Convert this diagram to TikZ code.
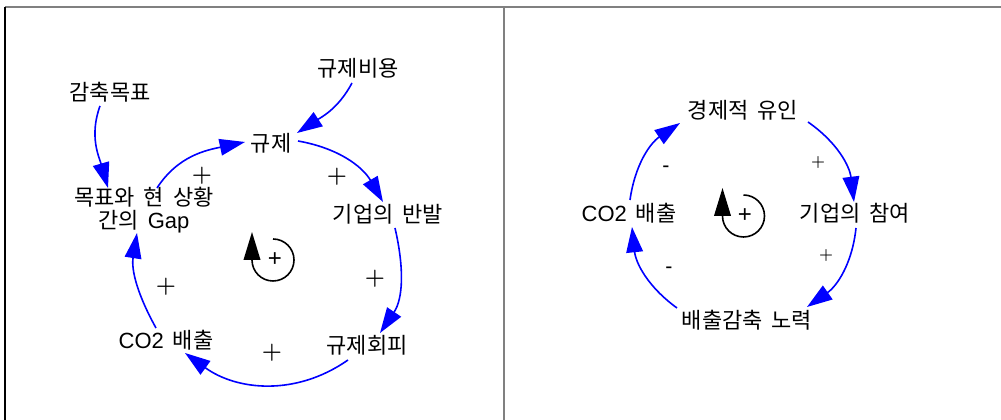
\documentclass[tikz,border=0pt]{standalone}
\usepackage{fontspec}
\setmainfont[WordSpace=1.8]{Noto Sans CJK KR}
\newfontfamily\lat{Liberation Sans}
\usetikzlibrary{arrows.meta}
\begin{document}
\begin{tikzpicture}[x=0.75pt,y=0.75pt,
  lbl/.style={font=\fontsize{16.5}{17.25}\selectfont, inner sep=0pt, align=center},
  flow/.style={draw=blue, line width=1.2pt, -{Triangle[length=19pt,width=12.5pt]}},
  loopc/.style={draw=black, line width=1.2pt, -{Triangle[length=21pt,width=12.5pt]}},
  bigplus/.style={font=\fontsize{17}{17}\selectfont\boldmath, inner sep=0pt},
  smallplus/.style={font=\fontsize{12}{12}\selectfont\boldmath, inner sep=0pt},
  minus/.style={font=\lat\fontsize{16}{16}\selectfont, inner sep=0pt},
  loopplus/.style={font=\lat\fontsize{18}{18}\selectfont, inner sep=0pt},
  frame/.style={line width=1.5pt}
]
\useasboundingbox (0,0) rectangle (1001,420);
% frame
\draw[frame, draw=gray] (5,413) -- (1001,413);
\draw[frame, draw=black] (5,413) -- (5,0);
\draw[frame, draw=gray] (504,413) -- (504,0);

% left panel nodes
\node[lbl] (A) at (358,352) {규제비용};
\node[lbl] (B) at (110,328) {감축목표};
\node[lbl] (C) at (271,277) {규제};
\node[lbl] (D) at (144,210) {목표와 현 상황\\간의 {\lat Gap}};
\node[lbl] (E) at (388,206) {기업의 반발};
\node[lbl] (F) at (367,75) {규제회피};
\node[lbl] (G) at (166,80) {{\lat CO2} 배출};
\coordinate (L1) at (273,160);

\draw[flow] ([shift={(-6,-15)}]A.center) to[out=-118,in=33] ([shift={(26,10)}]C.center);
\draw[flow] ([shift={(-10,-14)}]B.center) to[out=-110,in=106] ([shift={(-36,22)}]D.center);
\draw[flow] ([shift={(13,22)}]D.center) to[out=57,in=-168] ([shift={(-26,1)}]C.center);
\draw[flow] ([shift={(27,2)}]C.center) to[out=-10,in=120] ([shift={(-5,12)}]E.center);
\draw[flow] ([shift={(7,-14)}]E.center) to[out=-77,in=56] ([shift={(13,12)}]F.center);
\draw[flow] ([shift={(-19,-15)}]F.center) to[out=-145,in=-36] ([shift={(19,-13)}]G.center);
\draw[flow] ([shift={(-10,12)}]G.center) to[out=119,in=-99] ([shift={(-7,-23)}]D.center);

\node[bigplus] (p1) at (202,244) {$+$};
\node[bigplus] (p2) at (337,243) {$+$};
\node[bigplus] (p3) at (375,141) {$+$};
\node[bigplus] (p4) at (272,67) {$+$};
\node[bigplus] (p5) at (166,133) {$+$};

\draw[loopc] ([shift={(0,21)}]L1) arc[start angle=90, end angle=-180, radius=21] -- ++(0,28);
\node[loopplus] (lp1) at (275,160) {+};

% right panel nodes
\node[lbl] (R1) at (743,310) {경제적 유인};
\node[lbl] (R2) at (629,207) {{\lat CO2} 배출};
\node[lbl] (R3) at (855,207) {기업의 참여};
\node[lbl] (R4) at (747,100) {배출감축 노력};
\coordinate (L2) at (743.5,204);

\draw[flow] ([shift={(65,-12)}]R1.center) to[out=-35,in=97] ([shift={(-1,11)}]R3.center);
\draw[flow] ([shift={(1,-15)}]R3.center) to[out=-96,in=35] ([shift={(60,13)}]R4.center);
\draw[flow] ([shift={(-70,12)}]R4.center) to[out=144,in=-84] ([shift={(3,-14)}]R2.center);
\draw[flow] ([shift={(1,13)}]R2.center) to[out=82,in=214] ([shift={(-63,-13)}]R1.center);

\node[smallplus] (q1) at (818,257) {$+$};
\node[smallplus] (q2) at (826,164) {$+$};
\node[minus] (m1) at (666,251) {-};
\node[minus] (m2) at (669,150) {-};

\draw[loopc] ([shift={(0,21)}]L2) arc[start angle=90, end angle=-180, radius=21] -- ++(0,28);
\node[loopplus] (lp2) at (745,204) {+};
\end{tikzpicture}
\end{document}
